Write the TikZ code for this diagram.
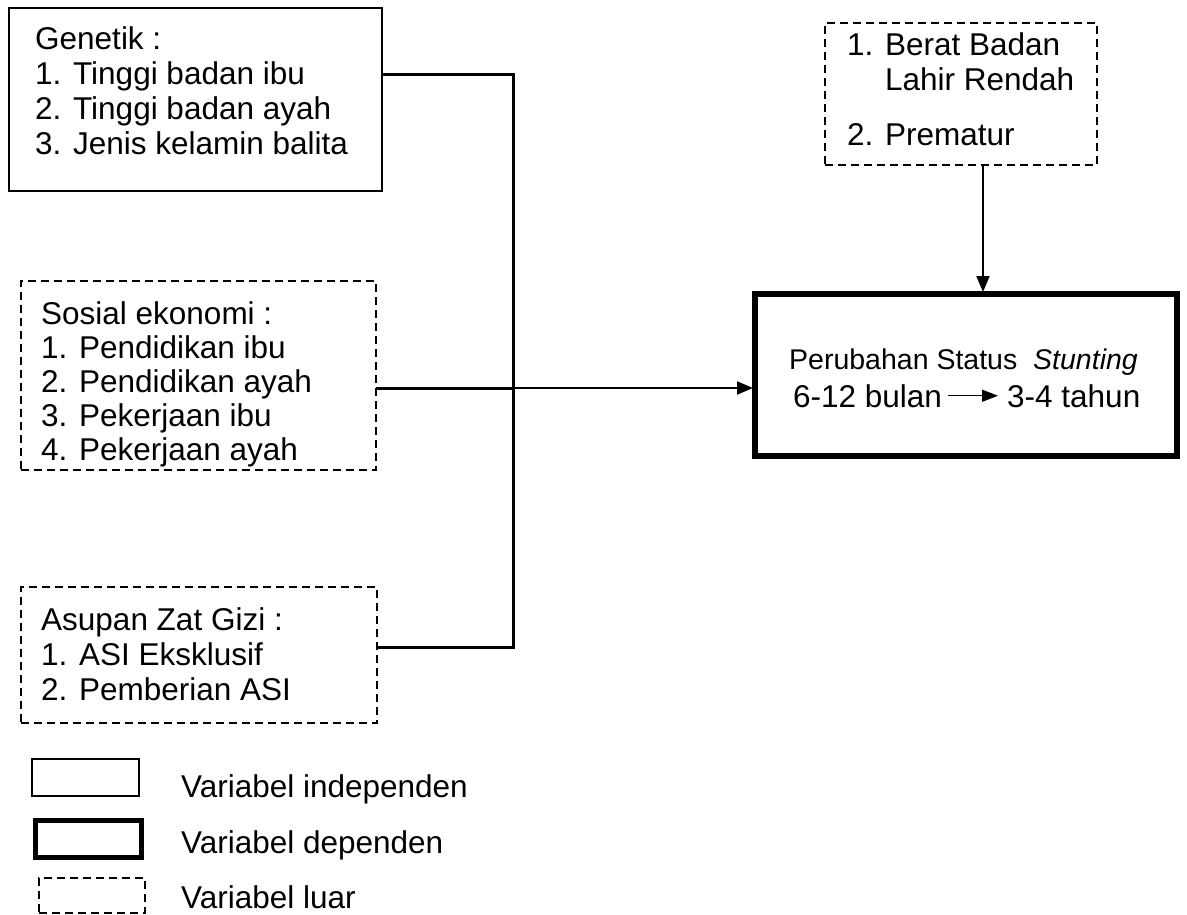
\documentclass[tikz,border=0pt]{standalone}
\usepackage{fontspec}
\setmainfont{Liberation Sans}
\usetikzlibrary{arrows.meta}
\newcommand{\blk}[1]{\begin{tabular}[t]{@{}l@{}}#1\end{tabular}}
\begin{document}
\begin{tikzpicture}[x=1pt,y=-1pt,
  box/.style={rectangle, inner sep=0pt, outer sep=0pt, draw, line width=2pt},
  indep/.style={box},
  depbox/.style={box, line width=6pt},
  luar/.style={box, dash pattern=on 8pt off 5pt},
  txt/.style={font=\fontsize{31.5}{35}\selectfont, inner sep=0pt, anchor=base west},
  conn/.style={line width=3pt},
  arr/.style={line width=2pt, -{Triangle[length=16pt,width=13pt]}, shorten >=2pt}
]
\useasboundingbox (0,0) rectangle (1187,915);

% boxes
\node[indep, minimum width=373pt, minimum height=183pt] (gen) at (195.5,99.5) {};
\node[luar, minimum width=355pt, minimum height=189pt] (sos) at (198.5,375.5) {};
\node[luar, minimum width=356pt, minimum height=136pt] (asu) at (199,655) {};
\node[luar, minimum width=272pt, minimum height=142pt] (ext) at (961,94) {};
\node[depbox, minimum width=422pt, minimum height=162pt] (dep) at (966,375) {};

% texts
\node[txt] (gent) at (35,50) {\blk{Genetik :\\1. Tinggi badan ibu\\2. Tinggi badan ayah\\3. Jenis kelamin balita}};
\node[txt, font=\fontsize{31.5}{34}\selectfont] (sost) at (41,324) {\blk{Sosial ekonomi :\\1. Pendidikan ibu\\2. Pendidikan ayah\\3. Pekerjaan ibu\\4. Pekerjaan ayah}};
\node[txt] (asut) at (41,630) {\blk{Asupan Zat Gizi :\\1. ASI Eksklusif\\2. Pemberian ASI}};
\node[txt] (extt) at (847,56) {\blk{1. Berat Badan\\\hphantom{1. }Lahir Rendah\\[20pt]2. Prematur}};

\node[font=\fontsize{28.5}{32}\selectfont, inner sep=0pt, anchor=base west] (d1) at (789,369) {Perubahan Status\ \ \textit{Stunting}};
\node[txt] (d2a) at (793,407) {6-12 bulan};
\node[txt] (d2b) at (1007,407) {3-4 tahun};
\draw[line width=1.5pt, -{Triangle[length=16pt,width=12pt]}, shorten <=6pt, shorten >=9pt] (d2a.east) -- (d2a.east -| d2b.west);

% connectors
\coordinate (jt) at (513,75);
\coordinate (jm) at (513,388);
\coordinate (jb) at (513,647);
\coordinate (ea) at (983,165);
\draw[conn] (gen.east |- jt) -- (jt) -- (jb) -- (asu.east |- jb);
\draw[conn] (sos.east |- jm) -- (jm);
\draw[arr] (jm) -- (dep.west |- jm);
\draw[arr] (ea) -- (ea |- dep.north);

% legend
\node[indep, minimum width=107pt, minimum height=37pt] (l1) at (85.5,777.5) {};
\node[depbox, line width=5pt, minimum width=106pt, minimum height=37pt] (l2) at (88,838.5) {};
\node[luar, minimum width=106pt, minimum height=35pt] (l3) at (92,895.5) {};
\node[txt] (l1t) at (181,797) {Variabel independen};
\node[txt] (l2t) at (181,853) {Variabel dependen};
\node[txt] (l3t) at (181,908) {Variabel luar};
\end{tikzpicture}
\end{document}
